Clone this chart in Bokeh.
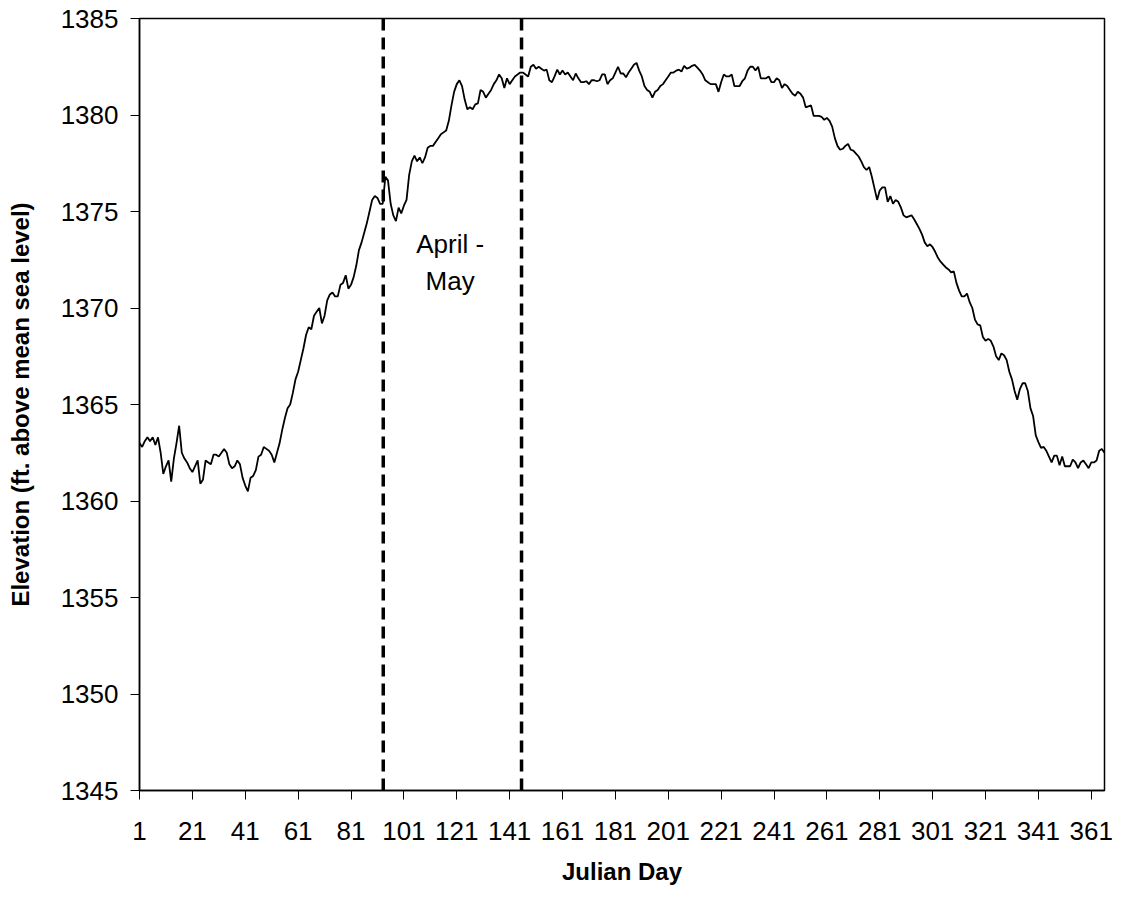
from bokeh.plotting import figure
from bokeh.models import Range1d, FixedTicker, Span, Label
from bokeh.embed import file_html
from bokeh.resources import INLINE

# Daily reservoir elevation (ft above mean sea level), Julian days 1..366
elev = [
    1363.0, 1362.8, 1363.1, 1363.3, 1363.1, 1363.3, 1362.9, 1363.3, 1362.5, 1361.4,
    1361.8, 1362.1, 1361.0, 1362.2, 1363.0, 1363.9, 1362.5, 1362.2, 1362.0, 1361.7,
    1361.5, 1361.8, 1362.1, 1360.9, 1361.1, 1362.1, 1362.0, 1361.9, 1362.4, 1362.4,
    1362.3, 1362.5, 1362.7, 1362.5, 1361.9, 1361.7, 1361.8, 1362.1, 1361.9, 1361.2,
    1360.8, 1360.5, 1361.2, 1361.3, 1361.6, 1362.3, 1362.4, 1362.8, 1362.7, 1362.6,
    1362.4, 1362.0, 1362.5, 1363.0, 1363.7, 1364.3, 1364.8, 1365.0, 1365.6, 1366.3,
    1366.7, 1367.3, 1367.9, 1368.6, 1369.0, 1368.9, 1369.6, 1369.8, 1370.0, 1369.2,
    1369.6, 1370.4, 1370.7, 1370.8, 1370.6, 1370.6, 1371.2, 1371.3, 1371.7, 1371.0,
    1371.2, 1371.6, 1372.2, 1373.0, 1373.4, 1373.9, 1374.4, 1375.0, 1375.6, 1375.8,
    1375.7, 1375.4, 1375.4, 1376.8, 1376.6, 1375.4, 1374.8, 1374.5, 1375.2, 1374.9,
    1375.3, 1375.6, 1376.9, 1377.6, 1377.9, 1377.6, 1377.8, 1377.5, 1377.8, 1378.3,
    1378.4, 1378.4, 1378.6, 1378.8, 1379.0, 1379.1, 1379.2, 1379.7, 1380.5, 1381.2,
    1381.6, 1381.8, 1381.5, 1380.8, 1380.3, 1380.4, 1380.3, 1380.55, 1380.6, 1381.3,
    1381.2, 1380.9, 1381.1, 1381.3, 1381.6, 1381.8, 1382.1, 1381.9, 1381.4, 1381.9,
    1381.6, 1381.8, 1382.0, 1382.1, 1382.2, 1382.2, 1382.1, 1382.0, 1382.5, 1382.6,
    1382.4, 1382.5, 1382.4, 1382.3, 1382.35, 1381.8, 1381.7, 1382.0, 1382.35, 1382.1,
    1382.3, 1382.1, 1382.2, 1382.0, 1381.8, 1382.15, 1381.9, 1381.7, 1381.7, 1381.75,
    1381.6, 1381.8, 1381.8, 1381.75, 1381.8, 1382.1, 1382.1, 1381.6, 1381.8, 1381.9,
    1382.2, 1382.5, 1382.15, 1382.15, 1381.95, 1382.2, 1382.4, 1382.6, 1382.7, 1382.3,
    1382.0, 1381.5, 1381.3, 1381.2, 1380.9, 1381.2, 1381.3, 1381.5, 1381.6, 1381.8,
    1382.0, 1382.2, 1382.2, 1382.3, 1382.35, 1382.25, 1382.55, 1382.4, 1382.45, 1382.55,
    1382.6, 1382.45, 1382.3, 1382.1, 1381.8, 1381.7, 1381.6, 1381.6, 1381.6, 1381.2,
    1381.7, 1382.1, 1382.0, 1382.0, 1382.1, 1381.5, 1381.5, 1381.5, 1381.75, 1381.9,
    1382.3, 1382.5, 1382.5, 1382.3, 1382.5, 1381.9, 1381.9, 1381.9, 1382.0, 1381.7,
    1381.7, 1381.9, 1381.8, 1381.4, 1381.6, 1381.5, 1381.3, 1381.1, 1381.0, 1381.2,
    1381.1, 1380.9, 1380.4, 1380.45, 1380.5, 1379.95, 1379.95, 1379.95, 1379.9, 1379.75,
    1379.85, 1379.7, 1379.4, 1378.8, 1378.4, 1378.2, 1378.25, 1378.4, 1378.5, 1378.2,
    1378.15, 1378.0, 1377.85, 1377.6, 1377.3, 1377.15, 1377.3, 1376.8, 1376.2, 1375.6,
    1376.1, 1376.25, 1376.25, 1375.5, 1375.8, 1375.4, 1375.6, 1375.5, 1375.2, 1374.8,
    1374.7, 1374.75, 1374.8, 1374.6, 1374.35, 1374.1, 1373.8, 1373.4, 1373.2, 1373.3,
    1373.15, 1372.9, 1372.6, 1372.4, 1372.25, 1372.1, 1372.0, 1371.85, 1371.9, 1371.3,
    1370.9, 1370.6, 1370.6, 1370.75, 1370.3, 1370.0, 1369.4, 1369.15, 1369.1, 1368.5,
    1368.3, 1368.4, 1368.3, 1368.0, 1367.5, 1367.3, 1367.65, 1367.55, 1367.3, 1366.7,
    1366.3, 1365.7, 1365.25, 1365.8, 1366.1, 1366.1, 1365.7, 1364.8, 1364.4, 1363.4,
    1363.05, 1362.75, 1362.8, 1362.6, 1362.3, 1362.0, 1362.35, 1362.35, 1361.85, 1362.3,
    1361.8, 1361.8, 1361.8, 1362.15, 1362.0, 1361.7, 1362.0, 1362.1, 1361.9, 1361.7,
    1362.0, 1362.0, 1362.1, 1362.6, 1362.7, 1362.5,
]
days = list(range(1, len(elev) + 1))

x_ticks = list(range(1, 362, 20))
y_ticks = [1345, 1350, 1355, 1360, 1365, 1370, 1375, 1380, 1385]

period_bounds = [93.2, 145.5]          # April - May markers (Julian day)
period_label_lines = ["April -", "May"]
label_day = 118.5
label_levels = [1373.3, 1371.4]

FONT = "Liberation Sans"

p = figure(width=1122, height=902, output_backend="svg", toolbar_location=None,
           x_range=Range1d(1, 366), y_range=Range1d(1345, 1385),
           min_border_left=139, min_border_right=18, min_border_top=18,
           min_border_bottom=112)

p.background_fill_color = "white"
p.border_fill_color = "white"
p.outline_line_color = "black"
p.outline_line_width = 1.5
p.outline_line_alpha = 1.0
p.xgrid.visible = False
p.ygrid.visible = False

for ax in (p.xaxis, p.yaxis):
    ax.axis_line_color = "black"
    ax.axis_line_width = 1.5
    ax.major_tick_line_color = "black"
    ax.major_tick_line_width = 1
    ax.major_tick_in = 0
    ax.major_tick_out = 9
    ax.minor_tick_line_color = None
    ax.major_label_text_font = FONT
    ax.major_label_text_font_size = "26px"
    ax.major_label_text_color = "black"
    ax.axis_label_text_font = FONT
    ax.axis_label_text_font_size = "24px"
    ax.axis_label_text_font_style = "bold"
    ax.axis_label_text_color = "black"

p.xaxis.ticker = FixedTicker(ticks=x_ticks)
p.yaxis.ticker = FixedTicker(ticks=y_ticks)
p.xaxis.major_label_standoff = 22
p.yaxis.major_label_standoff = 12
p.xaxis.axis_label = "Julian Day"
p.yaxis.axis_label = "Elevation (ft. above mean sea level)"
p.xaxis.axis_label_standoff = 15
p.yaxis.axis_label_standoff = 24

for d in period_bounds:
    p.add_layout(Span(location=d, dimension="height", line_color="black",
                      line_width=3.5, line_dash="12 7"))

p.line(days, elev, line_color="black", line_width=1.8)

for txt, lvl in zip(period_label_lines, label_levels):
    p.add_layout(Label(x=label_day, y=lvl, text=txt, text_align="center",
                       text_baseline="alphabetic", text_font=FONT,
                       text_font_size="26px", text_color="black"))

open("out.html", "w").write(file_html(p, INLINE))
